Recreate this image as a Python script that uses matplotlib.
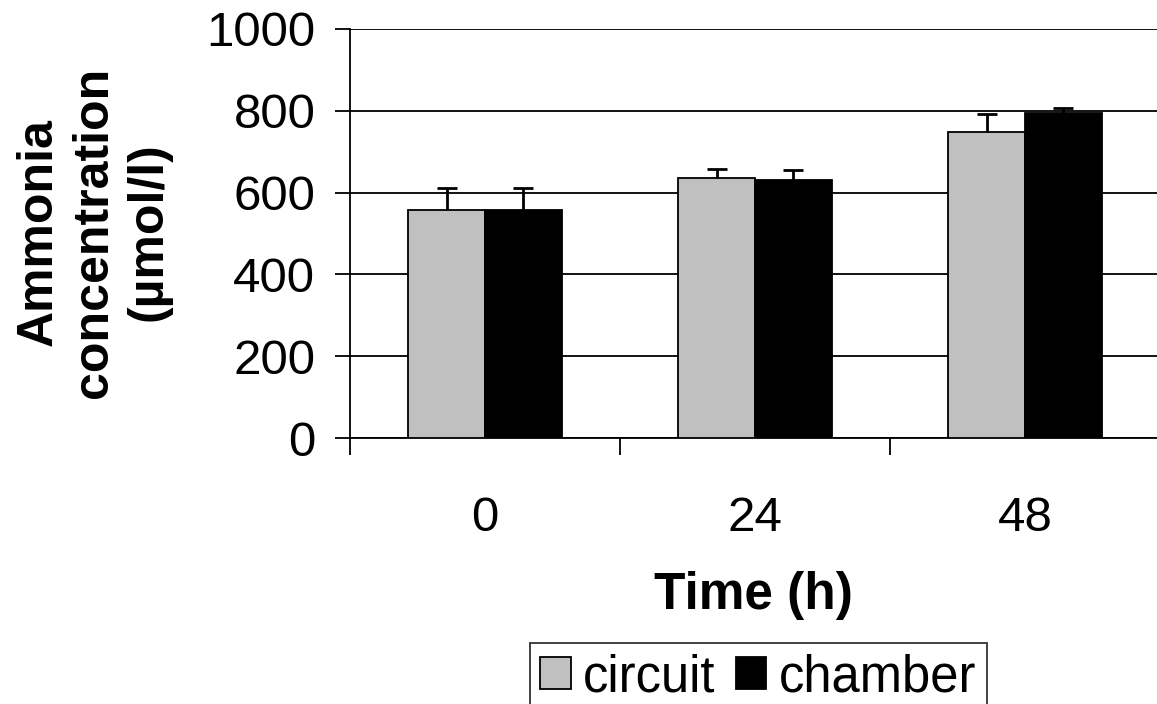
import matplotlib
matplotlib.use("Agg")
import matplotlib.pyplot as plt
import numpy as np
from matplotlib.patches import Patch

categories = ["0", "24", "48"]
circuit = [557, 636, 748]
chamber = [557, 631, 795]
circuit_err = [54, 22, 44]
chamber_err = [54, 24, 12]
yticks = [0, 200, 400, 600, 800, 1000]

plt.rcParams['font.family'] = ['Liberation Sans', 'DejaVu Sans']

fig = plt.figure(figsize=(11.57, 7.04), dpi=100)
ax = fig.add_axes([350/1157, (704-438)/704, 810/1157, 409/704])

x = np.arange(len(categories))
w = 0.285
ax.bar(x - w/2, circuit, w, color='#c0c0c0', edgecolor='black', linewidth=1.3, zorder=3)
ax.bar(x + w/2, chamber, w, color='black', edgecolor='black', linewidth=1.3, zorder=3)
for xs, vals, errs in [(x - w/2, circuit, circuit_err), (x + w/2, chamber, chamber_err)]:
    _, caps, _ = ax.errorbar(xs, vals, yerr=[np.zeros(3), errs], fmt='none', ecolor='black',
                             elinewidth=2, capsize=7, capthick=2, zorder=4)
    caps[0].set_visible(False)

ax.set_xlim(-0.5, 2.5)
ax.set_ylim(0, 1000)
ax.set_yticks(yticks)
ax.set_yticklabels([str(v) for v in yticks], fontsize=35.5)
ax.yaxis.grid(True, color='black', linewidth=1.3, zorder=0)
ax.set_axisbelow(True)

ax.set_xticks(x)
ax.set_xticklabels(categories, fontsize=35.5)
ax.set_xticks([-0.5, 0.5, 1.5, 2.5], minor=True)
ax.tick_params(axis='x', which='major', length=0, pad=42)
ax.tick_params(axis='x', which='minor', length=12, width=1.3, direction='out')
ax.tick_params(axis='y', length=11, width=1.3, pad=14, direction='out')

for s in ['top', 'right']:
    ax.spines[s].set_visible(False)
for s in ['left', 'bottom']:
    ax.spines[s].set_linewidth(1.3)

fig.text(94/1157, 1 - 232/704, "Ammonia\nconcentration\n(µmol/l)", rotation=90,
         ha='center', va='center', fontsize=36, fontweight='bold', linespacing=1.25,
         multialignment='center')
fig.text(753/1157, 1 - 596/704, "Time (h)", ha='center', va='center', fontsize=37,
         fontweight='bold')

handles = [Patch(facecolor='#c0c0c0', edgecolor='black', linewidth=1.3),
           Patch(facecolor='black', edgecolor='black', linewidth=1.3)]
leg = fig.legend(handles, ["circuit", "chamber"], loc='upper left',
                 bbox_to_anchor=(530/1157, 1 - 643/704), ncol=2, fontsize=36.5,
                 frameon=True, fancybox=False, edgecolor='black', handlelength=0.6,
                 handleheight=0.6, handletextpad=0.25, columnspacing=0.4,
                 borderpad=0.2, borderaxespad=0)
leg.get_frame().set_linewidth(1.3)

fig.savefig("out.png", dpi=100)
